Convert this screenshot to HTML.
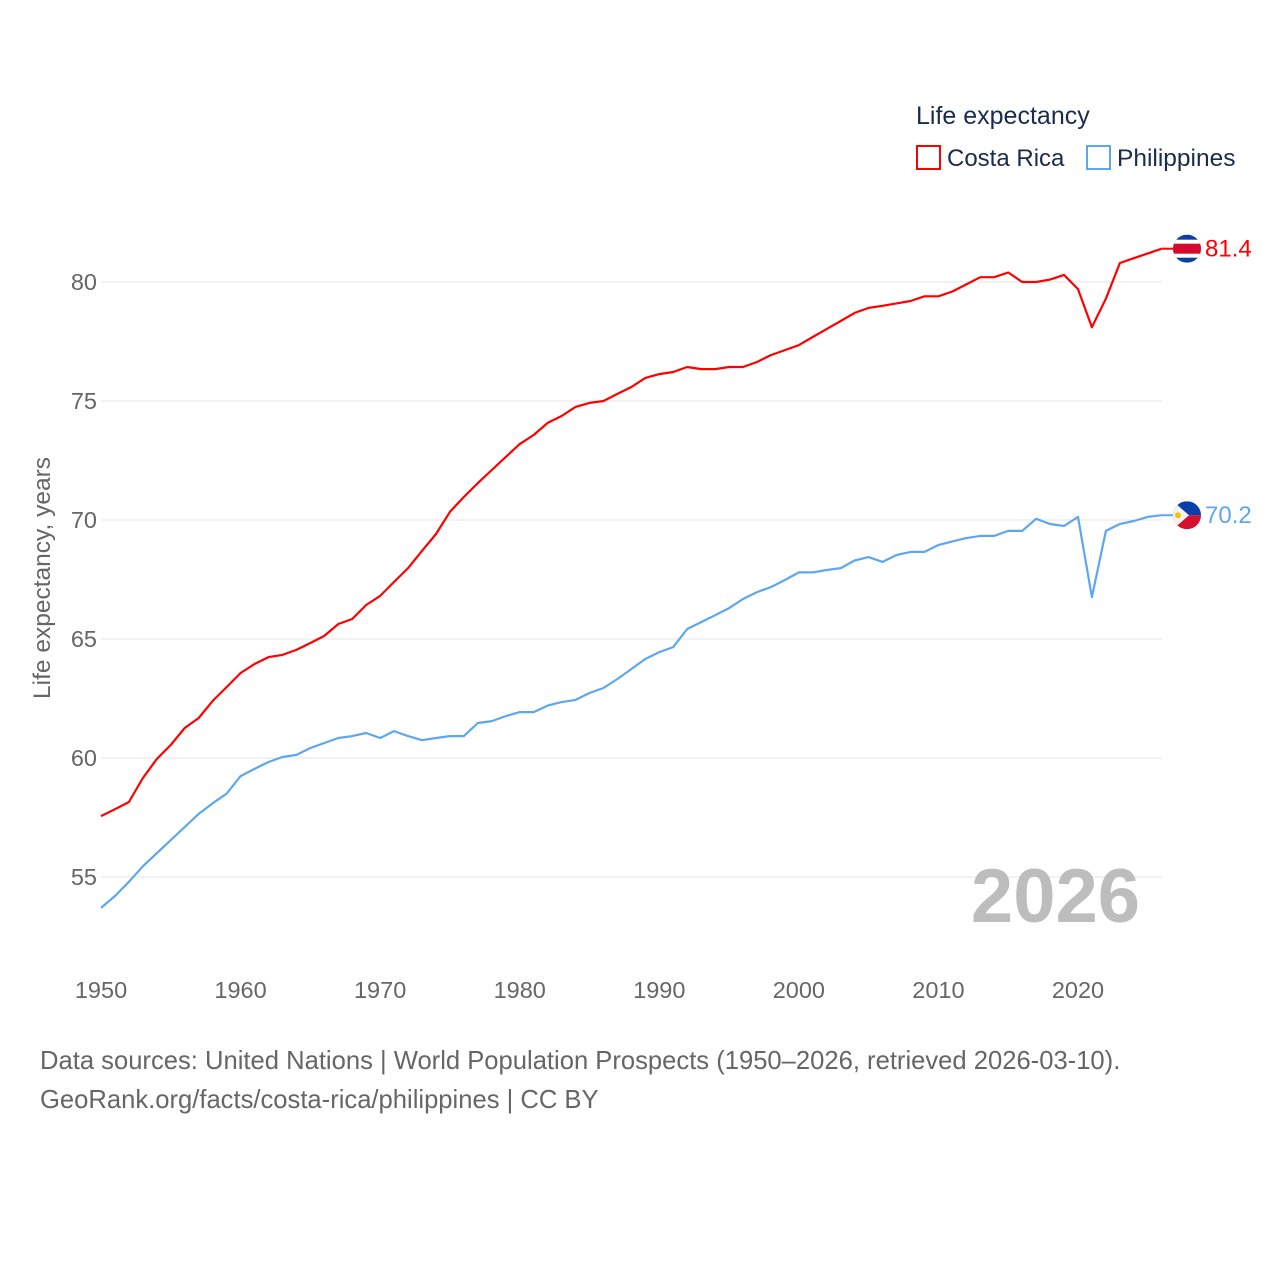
<!DOCTYPE html>
<html><head><meta charset="utf-8"><style>
body{margin:0;background:#fff;}
svg{display:block;font-family:"Liberation Sans",sans-serif;}
</style></head><body>
<svg id="chart" width="1280" height="1280" viewBox="0 0 1280 1280">
<g id="grid"></g>
<g id="yticks"></g>
<g id="xticks"></g>
<text x="50" y="578" transform="rotate(-90 50 578)" text-anchor="middle" font-size="24.5" fill="#666">Life expectancy, years</text>
<text x="1140" y="922" text-anchor="end" font-size="76" font-weight="bold" fill="#bdbdbd">2026</text>
<g id="series"></g>
<g>
<text x="916" y="124" font-size="25" fill="#1b2b4b">Life expectancy</text>
<g>
<rect x="917" y="146" width="23" height="23" fill="none" stroke="#ff0000" stroke-width="2"/>
<text x="947" y="166" font-size="24" fill="#1b2b4b">Costa Rica</text></g>
<g>
<rect x="1087" y="146" width="23" height="23" fill="none" stroke="#5ea7ee" stroke-width="2"/>
<text x="1117" y="166" font-size="24.5" fill="#1b2b4b">Philippines</text></g>
</g>
<g>
<text x="40" y="1069" font-size="25.6" fill="#666">Data sources: United Nations | World Population Prospects (1950–2026, retrieved 2026-03-10).</text>
<text x="40" y="1108" font-size="25.6" fill="#666">GeoRank.org/facts/costa-rica/philippines | CC BY</text>
</g>
</svg>
<script>
const years=[];for(let y=1950;y<=2026;y++)years.push(y);
const costaRica=[57.56,57.85,58.15,59.16,59.96,60.55,61.26,61.68,62.4,62.98,63.57,63.95,64.24,64.33,64.54,64.83,65.13,65.63,65.84,66.43,66.81,67.4,67.98,68.7,69.41,70.34,70.97,71.55,72.1,72.65,73.19,73.57,74.08,74.37,74.75,74.92,75.0,75.3,75.59,75.97,76.13,76.22,76.43,76.34,76.34,76.43,76.43,76.64,76.93,77.14,77.35,77.69,78.03,78.36,78.7,78.91,79.0,79.1,79.2,79.4,79.4,79.6,79.9,80.2,80.2,80.4,80.0,80.0,80.1,80.3,79.7,78.1,79.3,80.8,81.0,81.2,81.4];
const philippines=[53.7,54.2,54.8,55.45,56.0,56.55,57.1,57.65,58.1,58.5,59.24,59.54,59.83,60.04,60.13,60.42,60.63,60.84,60.92,61.05,60.84,61.13,60.92,60.75,60.84,60.92,60.92,61.47,61.55,61.76,61.93,61.93,62.2,62.35,62.44,62.73,62.94,63.32,63.74,64.16,64.45,64.66,65.42,65.71,66.0,66.3,66.68,66.97,67.18,67.48,67.8,67.8,67.9,67.98,68.3,68.44,68.24,68.53,68.66,68.66,68.95,69.1,69.24,69.33,69.33,69.54,69.54,70.05,69.83,69.75,70.13,66.76,69.54,69.83,69.96,70.13,70.2];
const yTicks=[55,60,65,70,75,80];
const xTicks=[1950,1960,1970,1980,1990,2000,2010,2020];
const NS="http://www.w3.org/2000/svg";
const X=v=>101+(v-1950)*13.957;
const Y=v=>282-(v-80)*23.8;
function mk(tag,attrs,parent,txt){const e=document.createElementNS(NS,tag);for(const k in attrs)e.setAttribute(k,attrs[k]);if(txt!==undefined)e.textContent=txt;parent.appendChild(e);return e;}
const grid=document.getElementById('grid'),yt=document.getElementById('yticks'),xt=document.getElementById('xticks'),ser=document.getElementById('series');
yTicks.forEach(t=>{
 const l=mk('line',{x1:101,x2:1162,y1:Y(t),y2:Y(t),stroke:'#e6e6e6','stroke-width':1},grid);
 
 
 const tx=mk('text',{x:97,y:Y(t)+8,'text-anchor':'end','font-size':23.5,fill:'#666'},yt,String(t));
 
 
});
xTicks.forEach(t=>{
 const tx=mk('text',{x:X(t),y:998,'text-anchor':'middle','font-size':23.5,fill:'#666'},xt,String(t));
 
 
});
function line(vals,color,name){
 const d=vals.map((v,i)=>(i?'L':'M')+X(years[i]).toFixed(1)+','+Y(v).toFixed(1)).join(' ');
 const p=mk('path',{d:d,fill:'none',stroke:color,'stroke-width':2.2,'stroke-linejoin':'round'},ser);
 
 
 const last=vals[vals.length-1],cx=1187,cy=Y(last);
 mk('line',{x1:X(years[years.length-1]),x2:cx-14,y1:cy,y2:cy,stroke:color,'stroke-width':2},ser);
 const g=mk('g',{},ser);
 
 
 const cid='clip-'+name;
 const cp=mk('clipPath',{id:cid},g);mk('circle',{cx:cx,cy:cy,r:14},cp);
 const fg=mk('g',{'clip-path':'url(#'+cid+')'},g);
 if(name==='costa-rica'){
  mk('rect',{x:cx-14,y:cy-14,width:28,height:28,fill:'#0b3fa0'},fg);
  mk('rect',{x:cx-14,y:cy-9,width:28,height:18,fill:'#fff'},fg);
  mk('rect',{x:cx-14,y:cy-5,width:28,height:10,fill:'#d20a2e'},fg);
 }else{
  mk('rect',{x:cx-14,y:cy-14,width:28,height:14,fill:'#0a3ea8'},fg);
  mk('rect',{x:cx-14,y:cy,width:28,height:14,fill:'#d4102e'},fg);
  mk('polygon',{points:(cx-14)+','+(cy-14)+' '+(cx+2)+','+cy+' '+(cx-14)+','+(cy+14),fill:'#f4f4f4'},fg);
  mk('circle',{cx:cx-9,cy:cy,r:3,fill:'#f5c400'},fg);
 }
 const lb=mk('text',{x:1205,y:cy+8,'font-size':24,fill:color},ser,last.toFixed(1));
 
 
}
line(costaRica,'#ff0000','costa-rica');
line(philippines,'#5ea7ee','philippines');
</script>
</body></html>
